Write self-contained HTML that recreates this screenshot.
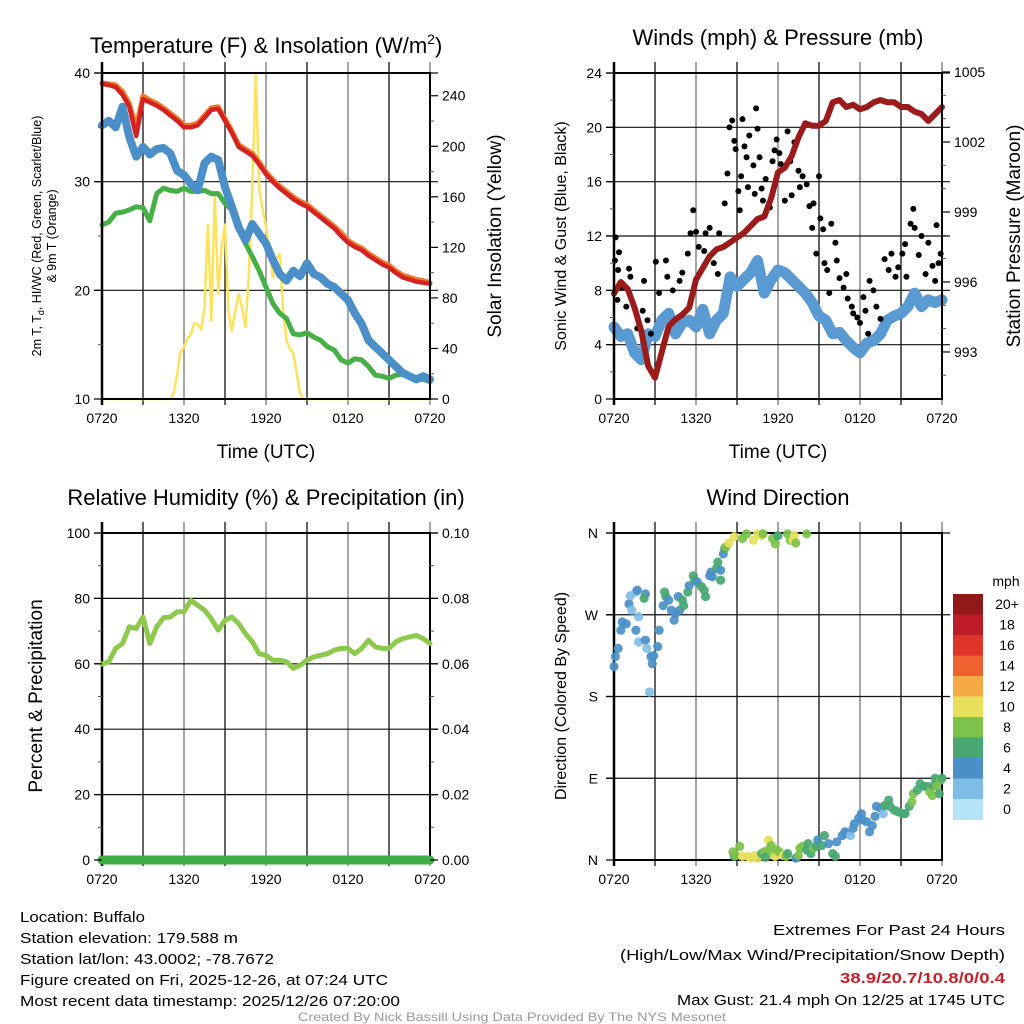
<!DOCTYPE html>
<html><head><meta charset="utf-8"><style>
html,body{margin:0;padding:0;background:#fff;}
svg{display:block;font-family:"Liberation Sans",Arial,sans-serif;}
</style></head><body>
<svg id="chart" width="1024" height="1024" viewBox="0 0 1024 1024" xmlns="http://www.w3.org/2000/svg">
<rect width="1024" height="1024" fill="#fff"/>
<g id="layer"></g>
<text x="266" y="53" font-size="22" text-anchor="middle">Temperature (F) &amp; Insolation (W/m<tspan font-size="14" dy="-9">2</tspan><tspan dy="9">)</tspan></text>
<text x="778" y="45" font-size="22" text-anchor="middle">Winds (mph) &amp; Pressure (mb)</text>
<text x="266" y="505" font-size="22" text-anchor="middle">Relative Humidity (%) &amp; Precipitation (in)</text>
<text x="778" y="505" font-size="22" text-anchor="middle">Wind Direction</text>
<text x="266" y="458" font-size="19" text-anchor="middle">Time (UTC)</text>
<text x="778" y="458" font-size="19" text-anchor="middle">Time (UTC)</text>
<text transform="translate(41,236) rotate(-90)" font-size="12.5" text-anchor="middle">2m T, T<tspan font-size="9" dy="3">d</tspan><tspan dy="-3">, HI/WC (Red, Green, Scarlet/Blue)</tspan></text>
<text transform="translate(56,236) rotate(-90)" font-size="12.5" text-anchor="middle">&amp; 9m T (Orange)</text>
<text transform="translate(501,236) rotate(-90)" font-size="19" text-anchor="middle">Solar Insolation (Yellow)</text>
<text transform="translate(566,236) rotate(-90)" font-size="16" text-anchor="middle">Sonic Wind &amp; Gust (Blue, Black)</text>
<text transform="translate(1020,236) rotate(-90)" font-size="19" text-anchor="middle">Station Pressure (Maroon)</text>
<text transform="translate(42,696) rotate(-90)" font-size="19" text-anchor="middle">Percent &amp; Precipitation</text>
<text transform="translate(566,696) rotate(-90)" font-size="16" text-anchor="middle">Direction (Colored By Speed)</text>
<g font-size="15">
<text x="20" y="922" textLength="125" lengthAdjust="spacingAndGlyphs">Location: Buffalo</text>
<text x="20" y="943" textLength="218" lengthAdjust="spacingAndGlyphs">Station elevation: 179.588 m</text>
<text x="20" y="964" textLength="254" lengthAdjust="spacingAndGlyphs">Station lat/lon: 43.0002; -78.7672</text>
<text x="20" y="985" textLength="368" lengthAdjust="spacingAndGlyphs">Figure created on Fri, 2025-12-26, at 07:24 UTC</text>
<text x="20" y="1006" textLength="380" lengthAdjust="spacingAndGlyphs">Most recent data timestamp: 2025/12/26 07:20:00</text>
<text x="1005" y="935" text-anchor="end" textLength="232" lengthAdjust="spacingAndGlyphs">Extremes For Past 24 Hours</text>
<text x="1005" y="960" text-anchor="end" textLength="385" lengthAdjust="spacingAndGlyphs">(High/Low/Max Wind/Precipitation/Snow Depth)</text>
<text x="1005" y="983" text-anchor="end" font-weight="bold" fill="#c8202a" textLength="165" lengthAdjust="spacingAndGlyphs">38.9/20.7/10.8/0/0.4</text>
<text x="1005" y="1005" text-anchor="end" textLength="328" lengthAdjust="spacingAndGlyphs">Max Gust: 21.4 mph On 12/25 at 1745 UTC</text>
<text x="512" y="1021" text-anchor="middle" font-size="12" fill="#999" textLength="428" lengthAdjust="spacingAndGlyphs">Created By Nick Bassill Using Data Provided By The NYS Mesonet</text>
</g>
</svg>
<script>
// ---------- data ----------
const halfHours = [0,0.5,1,1.5,2,2.5,3,3.5,4,4.5,5,5.5,6,6.5,7,7.5,8,8.5,9,9.5,10,10.5,11,11.5,12,12.5,13,13.5,14,14.5,15,15.5,16,16.5,17,17.5,18,18.5,19,19.5,20,20.5,21,21.5,22,22.5,23,23.5,24];
const timeLabels = ["0720","1320","1920","0120","0720"];
const tempRed = [39.0,38.9,38.7,38.0,36.9,34.2,37.6,37.3,37.0,36.6,36.1,35.6,35.0,35.0,35.2,35.9,36.6,36.7,35.6,34.5,33.2,32.8,32.4,31.6,30.7,30.0,29.4,28.9,28.4,28.0,27.7,27.2,26.7,26.2,25.7,25.0,24.4,24.0,23.7,23.2,22.8,22.4,22.1,21.6,21.2,21.0,20.8,20.7,20.6];
const tempOrange = [39.1,39.0,38.9,38.3,37.2,35.0,37.9,37.5,37.2,36.8,36.3,35.8,35.2,35.2,35.4,36.1,36.8,36.9,35.8,34.7,33.4,33.0,32.6,31.8,30.9,30.2,29.6,29.1,28.6,28.2,27.9,27.4,26.9,26.4,25.9,25.3,24.6,24.2,23.9,23.4,23.0,22.6,22.3,21.8,21.4,21.2,21.0,20.9,20.7];
const tempBlue = [35.2,35.6,35.0,36.9,34.1,32.3,33.2,32.5,33.0,33.1,32.6,31.0,30.6,29.8,29.2,31.7,32.3,32.0,29.5,27.7,25.8,24.6,26.1,25.2,24.3,22.8,21.5,20.9,21.8,21.3,22.5,21.5,21.2,20.6,20.3,19.7,19.1,17.9,16.9,15.4,14.8,14.2,13.6,13.0,12.4,12.1,11.8,12.1,11.8];
const tempGreen = [26.0,26.3,27.1,27.2,27.4,27.7,27.6,26.4,28.9,29.4,29.2,29.1,29.4,29.1,29.1,29.2,28.9,28.9,28.0,27.4,25.8,24.3,23.1,21.8,20.3,18.8,17.9,17.4,16.0,15.9,16.1,15.7,15.4,14.8,14.5,13.6,13.3,13.7,13.6,13.0,12.2,12.1,11.9,12.2,12.3,12.1,11.9,11.8,11.6];
const solarHours = [0,5,5.25,5.5,5.75,6,6.25,6.5,6.75,7,7.25,7.5,7.75,8,8.25,8.5,8.75,9,9.25,9.5,9.75,10,10.25,10.5,10.75,11,11.25,11.5,11.75,12,12.25,12.5,12.75,13,13.25,13.5,13.75,14,14.25,14.5,14.75,15,24];
const solarValues = [0,0,5,20,38,41,48,51,60,59,55,72,138,62,162,83,120,138,70,54,70,83,72,57,100,167,257,167,150,136,120,96,110,115,70,46,40,36,20,4,0,0,0];
const windHours = halfHours;
const windSpeed = [5.3,4.6,4.8,3.4,2.9,4.8,4.6,5.8,6.3,4.8,5.6,5.8,5.3,6.6,4.8,5.8,6.3,9.0,8.3,8.8,9.3,10.2,7.8,8.8,9.5,9.3,8.8,8.3,7.8,7.1,6.1,5.8,4.8,4.9,4.3,3.8,3.4,4.1,4.3,4.8,5.8,6.1,6.3,6.8,7.8,6.8,7.3,7.1,7.3];
const pressure = [995.5,996.0,995.7,994.9,993.9,992.4,991.9,993.0,994.1,994.4,994.6,994.9,996.1,996.6,997.1,997.4,997.5,997.7,997.9,998.1,998.4,998.7,998.8,999.6,1000.7,1000.9,1001.4,1002.2,1002.8,1002.7,1002.7,1002.9,1003.7,1003.8,1003.5,1003.6,1003.4,1003.5,1003.7,1003.8,1003.7,1003.7,1003.5,1003.5,1003.3,1003.2,1002.9,1003.2,1003.5];
const gustHours = [0.07,0.12,0.37,0.3,0.25,0.6,1.1,1.2,0.9,1.7,2.2,2.1,2.45,2.7,3.06,3.3,3.8,3.9,4.3,4.8,5.0,5.4,5.6,5.8,6.0,6.2,6.6,6.7,7.0,7.3,7.6,7.7,8.1,8.3,8.45,8.65,8.8,8.9,9.1,9.2,9.3,9.4,9.55,9.7,9.8,9.9,10.2,10.3,10.4,10.5,10.65,10.8,10.9,11.1,11.4,11.6,11.75,11.9,12.1,12.2,12.5,12.7,12.9,13.0,13.2,13.5,13.6,13.8,14.1,14.3,14.5,14.6,14.8,15.0,15.1,15.3,15.4,15.6,15.75,15.9,16.2,16.3,16.5,16.8,17.0,17.1,17.4,17.5,17.8,18.0,18.25,18.4,18.6,18.7,18.98,19.2,19.5,19.8,20.1,20.3,20.6,20.8,21.1,21.3,21.4,21.7,21.9,22.0,22.3,22.5,22.8,23.0,23.3,23.5,23.6,23.75,23.9];
const gustSpeed = [10.2,11.9,10.8,9.5,7.3,8.2,9.6,9.0,6.8,5.2,8.7,6.5,5.8,4.8,10.1,7.8,10.2,9.0,8.0,8.7,9.3,10.7,12.2,13.9,12.3,11.2,10.9,12.2,12.6,10.0,9.2,12.2,14.4,16.6,20.0,20.5,19.0,18.4,15.3,13.9,16.4,20.6,18.6,17.8,15.6,19.4,17.2,15.1,21.4,19.9,17.8,15.5,14.6,16.2,14.1,17.5,18.3,19.1,18.1,17.3,14.6,19.7,17.5,15.0,18.9,16.8,15.6,16.4,15.8,14.2,12.6,14.4,10.7,16.4,13.3,12.5,10.0,9.5,7.8,12.9,11.5,10.2,8.9,8.2,9.2,7.4,6.8,6.3,6.0,5.6,7.5,6.5,4.8,8.7,8.0,6.8,5.9,10.3,9.5,10.7,9.0,9.7,10.7,11.4,9.0,12.9,14.0,12.6,10.6,12.0,9.2,11.5,9.8,8.7,12.8,10.0,10.7];
const rhValues = [59.9,60.6,64.7,66.2,71.3,70.8,74.3,66.2,71.3,74.1,74.3,75.9,75.9,79.4,77.9,76.4,73.8,70.3,73.3,74.3,72.3,69.2,66.7,63.1,62.6,61.1,61.1,60.6,58.6,59.6,61.1,62.1,62.6,63.1,64.2,64.7,64.7,63.1,64.7,67.2,65.2,64.7,64.7,66.7,67.7,68.2,68.7,67.7,66.2];
const precipValues = [0,0,0,0,0,0,0,0,0,0,0,0,0,0,0,0,0,0,0,0,0,0,0,0,0,0,0,0,0,0,0,0,0,0,0,0,0,0,0,0,0,0,0,0,0,0,0,0,0];
const dirHours = [0.0,0.1,0.3,0.5,0.6,0.9,1.1,1.2,1.6,1.7,1.3,1.8,1.6,1.8,2.3,2.3,2.4,2.6,2.7,2.8,2.9,3.2,3.3,2.2,3.6,3.7,3.8,4.0,4.2,4.4,4.5,4.7,4.8,5.0,5.1,5.4,5.5,5.8,5.9,6.1,6.4,6.6,6.7,7.0,7.1,7.2,7.5,7.6,7.8,7.8,8.0,8.1,8.2,8.4,8.8,9.4,9.7,10.2,10.5,10.8,10.9,11.6,11.8,12.0,12.7,12.9,13.1,13.2,13.3,14.1,
8.7,8.8,8.9,9.2,9.4,9.8,10.0,10.3,10.5,10.8,11.0,11.1,11.3,11.4,11.5,11.6,11.8,11.9,12.1,12.4,12.6,12.7,13.3,13.5,13.6,13.8,14.1,14.2,14.4,14.6,14.8,14.9,15.2,15.4,15.7,16.0,16.2,16.3,16.7,16.9,17.0,17.3,17.5,17.6,17.9,18.1,18.2,18.5,18.7,18.9,19.1,19.2,19.5,19.7,19.8,20.1,20.2,20.5,20.8,21.1,21.3,21.6,21.8,21.9,22.2,22.4,22.7,22.9,23.1,23.3,23.4,23.5,23.6,23.8,23.9,24.0];
const dirDegrees = [213,224,233,253,262,260,282,291,295,297,275,268,253,240,293,242,233,185,224,216,225,235,253,288,280,295,290,286,275,264,271,290,275,286,280,295,302,313,308,306,301,297,290,313,317,312,321,328,308,319,337,343,345,349,356,354,359,352,359,357,359,354,348,357,359,352,352,357,349,359,
9,4,5,15,4,4,2,5,2,7,9,3,22,13,16,7,4,11,9,5,4,7,2,5,13,15,11,18,7,13,15,22,16,27,18,7,4,20,27,31,29,27,35,40,46,51,44,42,31,38,48,59,57,51,60,66,59,55,53,51,51,59,64,73,77,84,81,81,75,71,82,90,81,73,88,90];
const dirSpeed = [4,4,4,4,4,4,4,2,2,4,2,2,4,2,4,4,2,2,4,4,4,4,4,6,4,6,6,4,4,4,4,4,4,6,6,6,4,6,6,4,6,6,6,4,4,4,6,6,6,4,4,6,8,10,10,8,8,10,10,10,8,8,8,6,8,8,10,10,8,8,
8,6,8,8,10,10,10,10,10,6,8,6,10,8,8,8,10,8,8,10,8,6,4,8,8,8,6,6,6,8,6,4,6,6,4,6,6,4,4,4,4,2,4,4,4,4,4,4,4,4,4,4,4,2,6,6,6,6,6,6,6,6,8,8,6,6,6,6,8,8,6,6,8,6,8,6];
const speedBins = ["0","2","4","6","8","10","12","14","16","18","20+"];
const binColors = ["#b5e3f8","#80bde6","#4a8fc7","#48a772","#7dc24b","#e6e05b","#f6a947","#ee6230","#dd3427","#bd1c28","#911818"];

// ---------- helpers ----------
const NS="http://www.w3.org/2000/svg";
const layer=document.getElementById('layer');
function mk(tag,attrs,parent){const e=document.createElementNS(NS,tag);for(const k in attrs)e.setAttribute(k,attrs[k]);(parent||layer).appendChild(e);return e;}
function txt(x,y,s,size,anchor,parent){const t=mk('text',{x:x,y:y,'font-size':size,'text-anchor':anchor},parent);t.textContent=s;return t;}

function panel(L,T,R,B,name){
  const g=mk('g',{});
  
  
  return g;
}
function xs(L,R){return h=>L+h*(R-L)/24;}

function drawFrame(g,L,T,R,B,hGrid,name){
  for(let i=0;i<=8;i++){
    const x=L+i*(R-L)/8;
    const l=mk('line',{x1:x,x2:x,y1:T-11,y2:B+6,stroke:(i%2? '#111':'#777'),'stroke-width':1.3},g);
    
    
  }
  hGrid.forEach(y=>{
    const l=mk('line',{x1:L-8,x2:R+8,y1:y,y2:y,stroke:'#111','stroke-width':1.2},g);
    
    
  });
  timeLabels.forEach((s,i)=>{
    const t=txt(L+i*(R-L)/4,B+24,s,14,'middle',g);
    
    
  });
}
function drawBox(g,L,T,R,B){
  const r=mk('rect',{x:L,y:T,width:R-L,height:B-T,fill:'none',stroke:'#000','stroke-width':2},g);
  
  
  mk('line',{x1:L,x2:L,y1:T-11,y2:B+6,stroke:'#000','stroke-width':2.5},g);
}
function yAxis(g,x,side,vals,scale,labels,minor){
  const d=side<0?-1:1;
  minor.forEach(v=>{mk('line',{x1:x,x2:x+d*4,y1:scale(v),y2:scale(v),stroke:'#555','stroke-width':1},g);});
  vals.forEach((v,i)=>{
    const y=scale(v);
    mk('line',{x1:x,x2:x+d*8,y1:y,y2:y,stroke:'#000','stroke-width':1.2},g);
    const t=txt(x+d*12,y+5,labels[i],14,side<0?'end':'start',g);
    
    
  });
}
function path(xsArr,ysArr,fx,fy){return xsArr.map((h,i)=>(i?'L':'M')+fx(h).toFixed(1)+','+fy(ysArr[i]).toFixed(1)).join('');}
function line(g,xsArr,ysArr,fx,fy,color,w,name){
  const p=mk('path',{d:path(xsArr,ysArr,fx,fy),fill:'none',stroke:color,'stroke-width':w,'stroke-linejoin':'round','stroke-linecap':'round'},g);
  
  
  return p;
}
function colorFor(s){let i=Math.floor(s/2);if(i<0)i=0;if(i>10)i=10;return binColors[i];}

// ---------- Panel 1: temperature ----------
(function(){
  const L=102,T=73,R=430,B=399;
  const g=panel(L,T,R,B,'temperature-panel');
  const X=xs(L,R), Y=t=>B-(t-10)*(B-T)/30, YI=v=>B-v*(B-T)/258;
  drawFrame(g,L,T,R,B,[Y(20),Y(30),Y(40)],'temp');
  line(g,solarHours,solarValues,X,YI,'#fde35c',2.5,'insolation-line');
  line(g,halfHours,tempGreen,X,Y,'#45b045',5,'dewpoint-line');
  line(g,halfHours,tempBlue,X,Y,'#4a8fc7',8,'windchill-line');
  line(g,halfHours,tempOrange,X,Y,'#f07a2a',5,'temp-9m-line');
  line(g,halfHours,tempRed,X,Y,'#d42222',4.5,'temp-2m-line');
  drawBox(g,L,T,R,B);
  yAxis(g,L,-1,[10,20,30,40],Y,['10','20','30','40'],[15,25,35]);
  yAxis(g,R,1,[0,40,80,120,160,200,240],YI,['0','40','80','120','160','200','240'],[20,60,100,140,180,220]);
})();

// ---------- Panel 2: winds ----------
(function(){
  const L=614,T=73,R=942,B=399;
  const g=panel(L,T,R,B,'wind-panel');
  const X=xs(L,R), Y=w=>B-w*(B-T)/24, YP=p=>72+(1005-p)*23.33;
  drawFrame(g,L,T,R,B,[4,8,12,16,20,24].map(Y),'wind');
  line(g,windHours,windSpeed,X,Y,'#5a9ad2',11,'sonic-wind-line');
  gustHours.forEach((h,i)=>{
    const c=mk('circle',{cx:X(h),cy:Y(gustSpeed[i]),r:3,fill:'#000'},g);
    
    
  });
  line(g,halfHours,pressure,X,YP,'#9b1b1b',6,'pressure-line');
  drawBox(g,L,T,R,B);
  yAxis(g,L,-1,[0,4,8,12,16,20,24],Y,['0','4','8','12','16','20','24'],[2,6,10,14,18,22]);
  yAxis(g,R,1,[993,996,999,1002,1005],YP,['993','996','999','1002','1005'],[992,994,995,997,998,1000,1001,1003,1004]);
})();

// ---------- Panel 3: RH ----------
(function(){
  const L=102,T=533,R=430,B=860;
  const g=panel(L,T,R,B,'humidity-panel');
  const X=xs(L,R), Y=r=>B-r*(B-T)/100, YQ=p=>B-p*(B-T)/0.1;
  drawFrame(g,L,T,R,B,[20,40,60,80,100].map(Y),'rh');
  drawBox(g,L,T,R,B);
  line(g,halfHours,rhValues,X,Y,'#8dc94c',5,'rh-line');
  line(g,halfHours,precipValues,X,YQ,'#3fae45',9,'precip-line');
  yAxis(g,L,-1,[0,20,40,60,80,100],Y,['0','20','40','60','80','100'],[10,30,50,70,90]);
  yAxis(g,R,1,[0,0.02,0.04,0.06,0.08,0.1],YQ,['0.00','0.02','0.04','0.06','0.08','0.10'],[0.01,0.03,0.05,0.07,0.09]);
})();

// ---------- Panel 4: direction ----------
(function(){
  const L=614,T=533,R=942,B=860;
  const g=panel(L,T,R,B,'direction-panel');
  const X=xs(L,R), Y=d=>B-d*(B-T)/360;
  drawFrame(g,L,T,R,B,[90,180,270,360].map(Y),'dir');
  drawBox(g,L,T,R,B);
  dirHours.forEach((h,i)=>{
    const c=mk('circle',{cx:X(h),cy:Y(dirDegrees[i]),r:4.6,fill:colorFor(dirSpeed[i]),'fill-opacity':0.92},g);
    
    
  });
  const lab=['N','E','S','W','N'];
  [0,90,180,270,360].forEach((d,i)=>{
    mk('line',{x1:L-8,x2:L,y1:Y(d),y2:Y(d),stroke:'#000','stroke-width':1.2},g);
    const t=txt(L-16,Y(d)+5,lab[i],14,'end',g);
    
    
  });
  const cb=mk('g',{},g);
  
  
  const cx=953,cw=30,top=594,bh=20.5;
  const t0=txt(1006,586,'mph',14,'middle',cb);
  
  
  for(let i=0;i<speedBins.length;i++){
    const k=speedBins.length-1-i;
    const r=mk('rect',{x:cx,y:top+i*bh,width:cw,height:bh+0.5,fill:binColors[k]},cb);
    
    
    const t=txt(1007,top+i*bh+15,speedBins[k],14,'middle',cb);
    
    
  }
})();
</script>
</body></html>
